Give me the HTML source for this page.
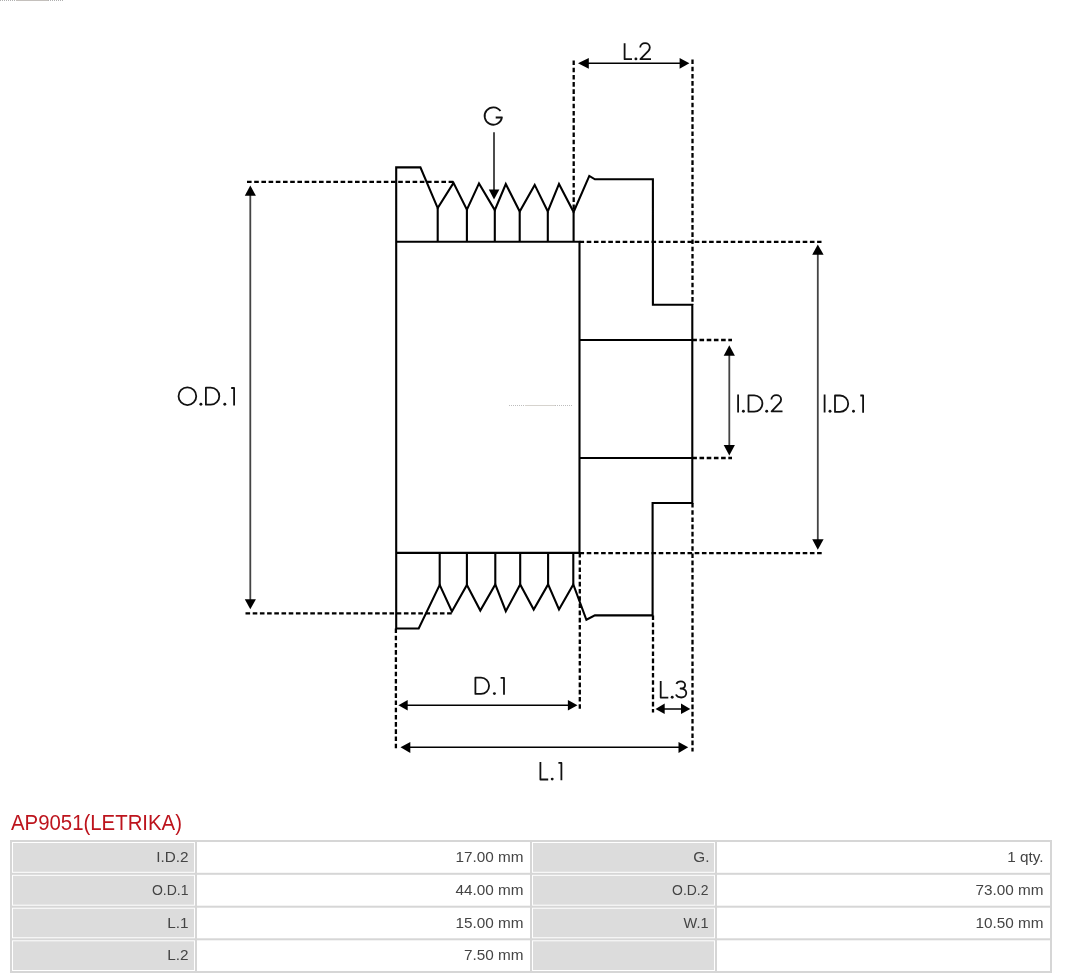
<!DOCTYPE html>
<html>
<head>
<meta charset="utf-8">
<style>
html,body{margin:0;padding:0;background:#fff;}
body{width:1066px;height:979px;position:relative;overflow:hidden;font-family:"Liberation Sans",sans-serif;}
#dia{position:absolute;left:0;top:0;}
#tbl{position:absolute;left:0;top:800px;will-change:transform;}
</style>
</head>
<body>
<svg id="dia" width="1066" height="800" viewBox="0 0 1066 800">
  <!-- top-left faint artifact -->
  <g shape-rendering="crispEdges" stroke-width="1">
    <line x1="0" y1="0.5" x2="16" y2="0.5" stroke="#b0b0b0" stroke-dasharray="1 1"/>
    <line x1="16" y1="0.5" x2="48" y2="0.5" stroke="#c4c0bc"/>
    <line x1="48" y1="0.5" x2="64" y2="0.5" stroke="#b0b0b0" stroke-dasharray="1 1"/>
  </g>
  <!-- outline -->
  <g fill="none" stroke="#000" stroke-width="2.1" stroke-linejoin="miter" stroke-miterlimit="10">
    <path d="M396.2,167.4 L420.4,167.4 L437.7,208.1 L453.5,182.9 L466.9,209.6 L479,183.4 L494.8,210.1 L505.8,184.1 L519.7,211.5 L534.7,184.9 L547.8,211.5 L559,183.9 L573.6,212 L589.3,175.9 L594.9,179.3 L652.9,179.3 L652.9,304.7 L692.3,304.7 L692.3,503 L652.6,503 L652.6,615.4 L594.9,615.4 L586.4,619.8 L573.3,584.4 L559,609.5 L548.1,584.4 L533.7,609.5 L520.2,584.4 L505.8,611.2 L495.3,584.4 L480.3,610.5 L466.9,584.9 L451.9,611.5 L439.7,584.9 L418.7,628.5 L396.2,628.5 Z"/>
    <path d="M437.7,208.1 V241.8 M466.9,209.6 V241.8 M494.8,210.1 V241.8 M519.7,211.5 V241.8 M547.8,211.5 V241.8 M573.6,212 V241.8"/>
    <path d="M439.7,584.9 V552.9 M466.9,584.9 V552.9 M495.3,584.4 V552.9 M520.2,584.4 V552.9 M548.1,584.4 V552.9 M573.3,584.4 V552.9"/>
    <path d="M396.2,241.8 H579.5 V552.9 H396.2"/>
    <path d="M579.5,340 H692.3 M579.5,458 H692.3"/>
  </g>
  <!-- faint center line -->
  <g shape-rendering="crispEdges" stroke-width="1">
    <line x1="509" y1="405.5" x2="525" y2="405.5" stroke="#bdbdbd" stroke-dasharray="1 1"/>
    <line x1="525" y1="405.5" x2="555" y2="405.5" stroke="#d6d3ce"/>
    <line x1="555" y1="405.5" x2="573" y2="405.5" stroke="#bdbdbd" stroke-dasharray="1 1"/>
  </g>
  <!-- dashed extension lines -->
  <g fill="none" stroke="#000" stroke-width="2.3" stroke-dasharray="4.6 2.6">
    <path d="M247,181.9 H453.5"/>
    <path d="M245.5,613.3 H452"/>
    <path d="M573.7,60.5 V211"/>
    <path d="M692.5,59.5 V304.7"/>
    <path d="M692.5,503 V751.4"/>
    <path d="M579.5,241.9 H821.5"/>
    <path d="M579.5,553.2 H822.7"/>
    <path d="M692.3,340 H732"/>
    <path d="M692.3,458 H732"/>
    <path d="M579.8,553 V709"/>
    <path d="M653,615.4 V712.6"/>
    <path d="M395.9,628.5 V749.8"/>
  </g>
  <!-- arrows: shafts -->
  <g fill="none" stroke-width="1.5">
    <path d="M250.3,195 V600" stroke="#444" stroke-width="1.8"/>
    <path d="M817.8,254 V540" stroke="#444" stroke-width="1.8"/>
    <path d="M729.3,355 V446" stroke="#444" stroke-width="1.8"/>
    <path d="M494,132.3 V190" stroke="#111"/>
    <path d="M588,63.3 H680" stroke="#000"/>
    <path d="M407,705.3 H568" stroke="#000"/>
    <path d="M664,709 H681.5" stroke="#000"/>
    <path d="M410,747.3 H679" stroke="#000"/>
  </g>
  <!-- arrow heads -->
  <g fill="#000" stroke="none">
    <polygon points="250.3,185.5 244.8,195.8 255.9,195.8"/>
    <polygon points="250.3,609.2 244.8,599.3 255.9,599.3"/>
    <polygon points="817.8,244.5 812.2,254.8 823.6,254.8"/>
    <polygon points="817.8,549.8 812.2,539.3 823.6,539.3"/>
    <polygon points="729.3,345.2 723.7,355.8 734.9,355.8"/>
    <polygon points="729.3,455.6 723.7,445 734.9,445"/>
    <polygon points="494,199.4 488.8,189.6 499.4,189.6"/>
    <polygon points="578,63.3 588.8,57.9 588.8,68.7"/>
    <polygon points="689.4,63.3 679.6,57.9 679.6,68.7"/>
    <polygon points="398.4,705.3 407.7,700 407.7,710.6"/>
    <polygon points="577.5,705.3 567.9,700 567.9,710.6"/>
    <polygon points="655.5,709 664.7,703.4 664.7,714.1"/>
    <polygon points="690.3,709 681,703.4 681,714.1"/>
    <polygon points="400.5,747.3 410.3,742 410.3,752.9"/>
    <polygon points="688.2,747.3 678.5,742 678.5,752.9"/>
  </g>
  <!-- labels (custom geometric glyphs) -->
  <g fill="none" stroke="#111" stroke-width="1.8" stroke-linejoin="round">
    <!-- L.2 -->
    <path d="M624.6,43.2 V59.2 H632"/>
    <path d="M640.2,47.6 C640.2,44.9 642.4,43.1 645.1,43.1 C647.8,43.1 649.8,45 649.8,47.4 C649.8,48.9 649.2,50 648.2,51.2 L640.4,59.2 H651"/>
    <!-- G -->
    <path d="M500.5,111.1 A8.7,8.7 0 1 0 501.9,117.5 H495.7"/>
    <!-- O.D.1 -->
    <circle cx="187.4" cy="396.2" r="8.85"/>
    <path d="M205.9,387.7 H210.8 A8.5,8.5 0 0 1 210.8,404.7 H205.9 Z"/>
    <path d="M231.2,388 H234.1 V405.5"/>
    <!-- I.D.2 -->
    <path d="M738.1,394.6 V412.4"/>
    <path d="M748.5,395.3 H754.2 A8.2,8.2 0 0 1 754.2,411.7 H748.5 Z"/>
    <path d="M771.4,399.6 C771.4,396.9 773.6,395.1 776.3,395.1 C779,395.1 781.1,397 781.1,399.4 C781.1,400.9 780.5,402 779.5,403.2 L771.6,411.4 H782.5"/>
    <!-- I.D.1 -->
    <path d="M824.6,394.5 V412.5"/>
    <path d="M835,395.5 H840 A8.2,8.2 0 0 1 840,411.9 H835 Z"/>
    <path d="M860.3,395.5 H863.1 V412.7"/>
    <!-- D.1 -->
    <path d="M475.4,677.7 H481 A8.1,8.1 0 0 1 481,693.9 H475.4 Z"/>
    <path d="M500.6,677.9 H504 V694.7"/>
    <!-- L.3 -->
    <path d="M660.7,681 V697.6 H668.3"/>
    <path d="M676.4,683.9 C677.1,682.2 678.9,681.4 680.8,681.4 C683.2,681.4 685.1,683 685.1,685 C685.1,687 683.3,688.5 680.6,688.5 C683.8,688.5 686.3,690.5 686.3,693.1 C686.3,695.6 684,697.5 681.2,697.5 C678.8,697.5 676.7,696.3 675.9,694.5"/>
    <!-- L.1 -->
    <path d="M540.4,762.1 V779.5 H548.2"/>
    <path d="M558.4,762.9 H561.4 V780.2"/>
  </g>
  <g fill="#111" stroke="none">
    <circle cx="635.9" cy="58.9" r="1.45"/>
    <circle cx="200.9" cy="404.2" r="1.45"/>
    <circle cx="224.8" cy="404.2" r="1.45"/>
    <circle cx="743.4" cy="411.2" r="1.45"/>
    <circle cx="766.7" cy="411.2" r="1.45"/>
    <circle cx="830" cy="411.2" r="1.45"/>
    <circle cx="853.5" cy="411.2" r="1.45"/>
    <circle cx="494.4" cy="693.6" r="1.45"/>
    <circle cx="672.2" cy="697.2" r="1.45"/>
    <circle cx="552.2" cy="779.1" r="1.45"/>
  </g>
</svg>

<svg id="tbl" width="1066" height="179" viewBox="0 800 1066 179">
<text x="11" y="829.8" font-family="Liberation Sans, sans-serif" font-size="21.2" fill="#bd141d" textLength="171" lengthAdjust="spacingAndGlyphs">AP9051(LETRIKA)</text>
<rect x="13" y="843.0" width="181" height="28.8" fill="#dcdcdc"/>
<rect x="533" y="843.0" width="181" height="28.8" fill="#dcdcdc"/>
<rect x="13" y="875.8" width="181" height="28.9" fill="#dcdcdc"/>
<rect x="533" y="875.8" width="181" height="28.9" fill="#dcdcdc"/>
<rect x="13" y="908.7" width="181" height="28.6" fill="#dcdcdc"/>
<rect x="533" y="908.7" width="181" height="28.6" fill="#dcdcdc"/>
<rect x="13" y="941.3" width="181" height="28.7" fill="#dcdcdc"/>
<rect x="533" y="941.3" width="181" height="28.7" fill="#dcdcdc"/>
<rect x="10" y="840" width="1042" height="2" fill="#d6d6d6"/>
<rect x="10" y="872.8" width="1042" height="2" fill="#d6d6d6"/>
<rect x="10" y="905.7" width="1042" height="2" fill="#d6d6d6"/>
<rect x="10" y="938.3" width="1042" height="2" fill="#d6d6d6"/>
<rect x="10" y="971" width="1042" height="2" fill="#d6d6d6"/>
<rect x="10" y="840" width="2" height="133" fill="#d6d6d6"/>
<rect x="195" y="840" width="2" height="133" fill="#d6d6d6"/>
<rect x="530" y="840" width="2" height="133" fill="#d6d6d6"/>
<rect x="715" y="840" width="2" height="133" fill="#d6d6d6"/>
<rect x="1050" y="840" width="2" height="133" fill="#d6d6d6"/>
<g font-family="Liberation Sans, sans-serif" font-size="15.3" fill="#444" text-anchor="end">
<text x="188.5" y="862">I.D.2</text>
<text x="523.5" y="862">17.00 mm</text>
<text x="709.5" y="862">G.</text>
<text x="1043.5" y="862">1 qty.</text>
<text x="188.5" y="894.7" textLength="36.6" lengthAdjust="spacingAndGlyphs">O.D.1</text>
<text x="523.5" y="894.7">44.00 mm</text>
<text x="708.5" y="894.7" textLength="36.4" lengthAdjust="spacingAndGlyphs">O.D.2</text>
<text x="1043.5" y="894.7">73.00 mm</text>
<text x="188.5" y="927.5">L.1</text>
<text x="523.5" y="927.5">15.00 mm</text>
<text x="708.5" y="927.5" textLength="25" lengthAdjust="spacingAndGlyphs">W.1</text>
<text x="1043.5" y="927.5">10.50 mm</text>
<text x="188.5" y="960.3">L.2</text>
<text x="523.5" y="960.3">7.50 mm</text>
</g></svg>
</body>
</html>
